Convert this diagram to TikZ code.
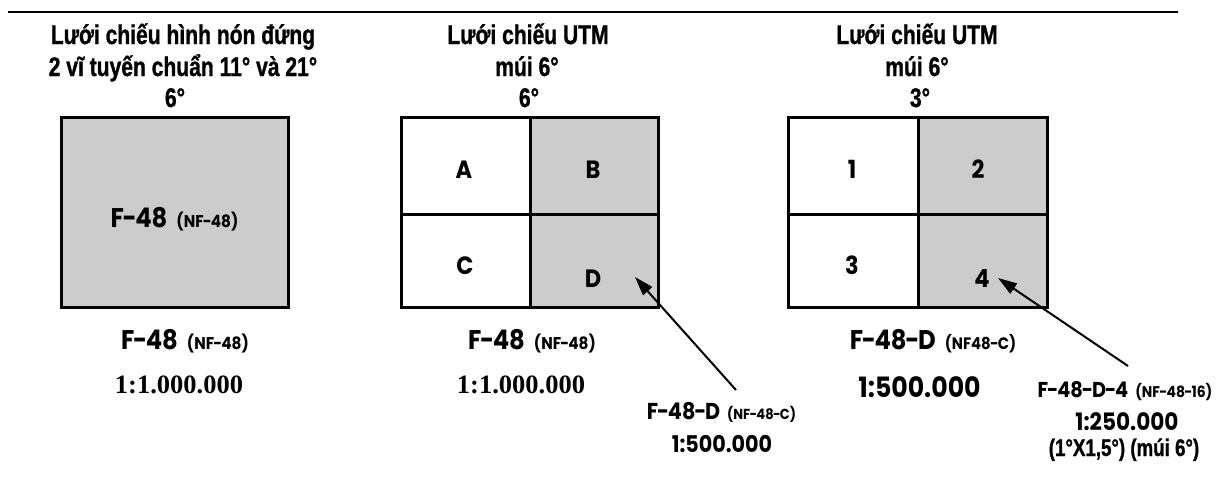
\documentclass[tikz,border=0pt]{standalone}
\usepackage{fontspec}
\usetikzlibrary{arrows.meta}
\newfontfamily\hdfont[FakeStretch=0.78,FakeBold=1]{Liberation Sans}
\newfontfamily\gfont[FakeStretch=0.9]{Poppins}
\newfontfamily\tfont{Liberation Serif}
\newcommand\fsz[1]{\fontsize{#1}{#1}\selectfont}
% slightly tighter hyphen for sheet codes
\newcommand\hy{\kern-0.05em-\kern-0.05em}
\definecolor{cellgray}{HTML}{CCCCCC}

\begin{document}
\begin{tikzpicture}[x=1pt,y=-1pt,
  head/.style={font={\hdfont\bfseries\fsz{27}}, inner sep=0, anchor=base},
  cell/.style={draw, line width=3pt, inner sep=0, outer sep=0},
  letter/.style={font={\gfont\bfseries\fsz{25}}, inner sep=0, anchor=base},
  code/.style={font={\gfont\bfseries}, inner sep=0, anchor=base},
  scaleT/.style={font={\tfont\bfseries\fsz{26.5}}, inner sep=0, anchor=base},
  pointer/.style={line width=2pt, -{Triangle[length=19pt,width=12pt]}}
]
\useasboundingbox (0,0) rectangle (1226,479);

% top rule
\coordinate (ruleL) at (8,12);
\coordinate (ruleR) at (1178,12);
\draw[line width=2pt] (ruleL) -- (ruleR);

% ---- left panel: conic projection sheet
\node[head] (h1a) at (183,44) {Lưới chiếu hình nón đứng};
\node[head] (h1b) at (183,76) {2 vĩ tuyến chuẩn 11° và 21°};
\node[head] (h1c) at (175,107) {6°};
\node[cell, fill=cellgray, minimum width=227pt, minimum height=190pt] (big) at (174.5,212) {};
\node[code] (bigtxt) at (174.5,227) {\fsz{27}F\hy48\hspace{9pt}\fsz{17}(NF\hy48)};
\node[code] (lcode) at (185,349) {\fsz{27}F\hy48\hspace{9pt}\fsz{17}(NF\hy48)};
\node[scaleT] (lscale) at (179,393) {1:1.000.000};

% ---- middle panel: UTM 6 degree sheet split into A-D
\node[head] (h2a) at (528,44) {Lưới chiếu UTM};
\node[head] (h2b) at (527,76) {múi 6°};
\node[head] (h2c) at (529,107) {6°};
\node[cell, fill=white, minimum width=129pt, minimum height=97pt] (cA) at (465.5,165.5) {};
\node[cell, fill=white, minimum width=129pt, minimum height=93pt] (cC) at (465.5,260.5) {};
\node[cell, fill=cellgray, minimum width=128pt, minimum height=97pt] (cB) at (594,165.5) {};
\node[cell, fill=cellgray, minimum width=128pt, minimum height=93pt] (cD) at (594,260.5) {};
\node[letter] (lA) at (464,178) {A};
\node[letter] (lB) at (593,178) {B};
\node[letter] (lC) at (465,274) {C};
\node[letter] (lD) at (593,287) {D};
\node[code] (mcode) at (532,349) {\fsz{27}F\hy48\hspace{9pt}\fsz{17}(NF\hy48)};
\node[scaleT] (mscale) at (521,393) {1:1.000.000};
\node[code] (dcode) at (721.5,419) {\fsz{23}F\hy48\hy D\hspace{7pt}\fsz{14.5}(NF\hy48\hy C)};
\node[code] (dscale) at (722,452) {\fsz{23}1:500.000};
\coordinate (dtail) at (736,390);
\coordinate (dtip) at (635,277);
\draw[pointer] (dtail) -- (dtip);

% ---- right panel: quarter sheets 1-4
\node[head] (h3a) at (917,44) {Lưới chiếu UTM};
\node[head] (h3b) at (917,76) {múi 6°};
\node[head] (h3c) at (920,107) {3°};
\node[cell, fill=white, minimum width=130pt, minimum height=97pt] (c1) at (853,165.5) {};
\node[cell, fill=white, minimum width=130pt, minimum height=93pt] (c3) at (853,260.5) {};
\node[cell, fill=cellgray, minimum width=129pt, minimum height=97pt] (c2) at (982.5,165.5) {};
\node[cell, fill=cellgray, minimum width=129pt, minimum height=93pt] (c4) at (982.5,260.5) {};
\node[letter] (l1) at (852,178) {1};
\node[letter] (l2) at (978,178) {2};
\node[letter] (l3) at (852,274) {3};
\node[letter] (l4) at (982,287) {4};
\node[code] (rcode) at (933,349) {\fsz{27}F\hy48\hy D\hspace{9pt}\fsz{16.5}(NF48\hy C)};
\node[code] (rscale) at (919.5,397) {\fsz{28}1:500.000};
\node[code] (qcode) at (1125,397) {\fsz{21.5}F\hy48\hy D\hy4\hspace{7pt}\fsz{15.5}(NF\hy48\hy16)};
\node[code] (qscale) at (1127,430) {\fsz{24}1:250.000};
\node[head, font={\hdfont\bfseries\fsz{24}}] (qsize) at (1124,456) {(1°X1,5°) (múi 6°)};
\coordinate (qtail) at (1128,366);
\coordinate (qtip) at (998,278);
\draw[pointer] (qtail) -- (qtip);
\end{tikzpicture}
\end{document}
